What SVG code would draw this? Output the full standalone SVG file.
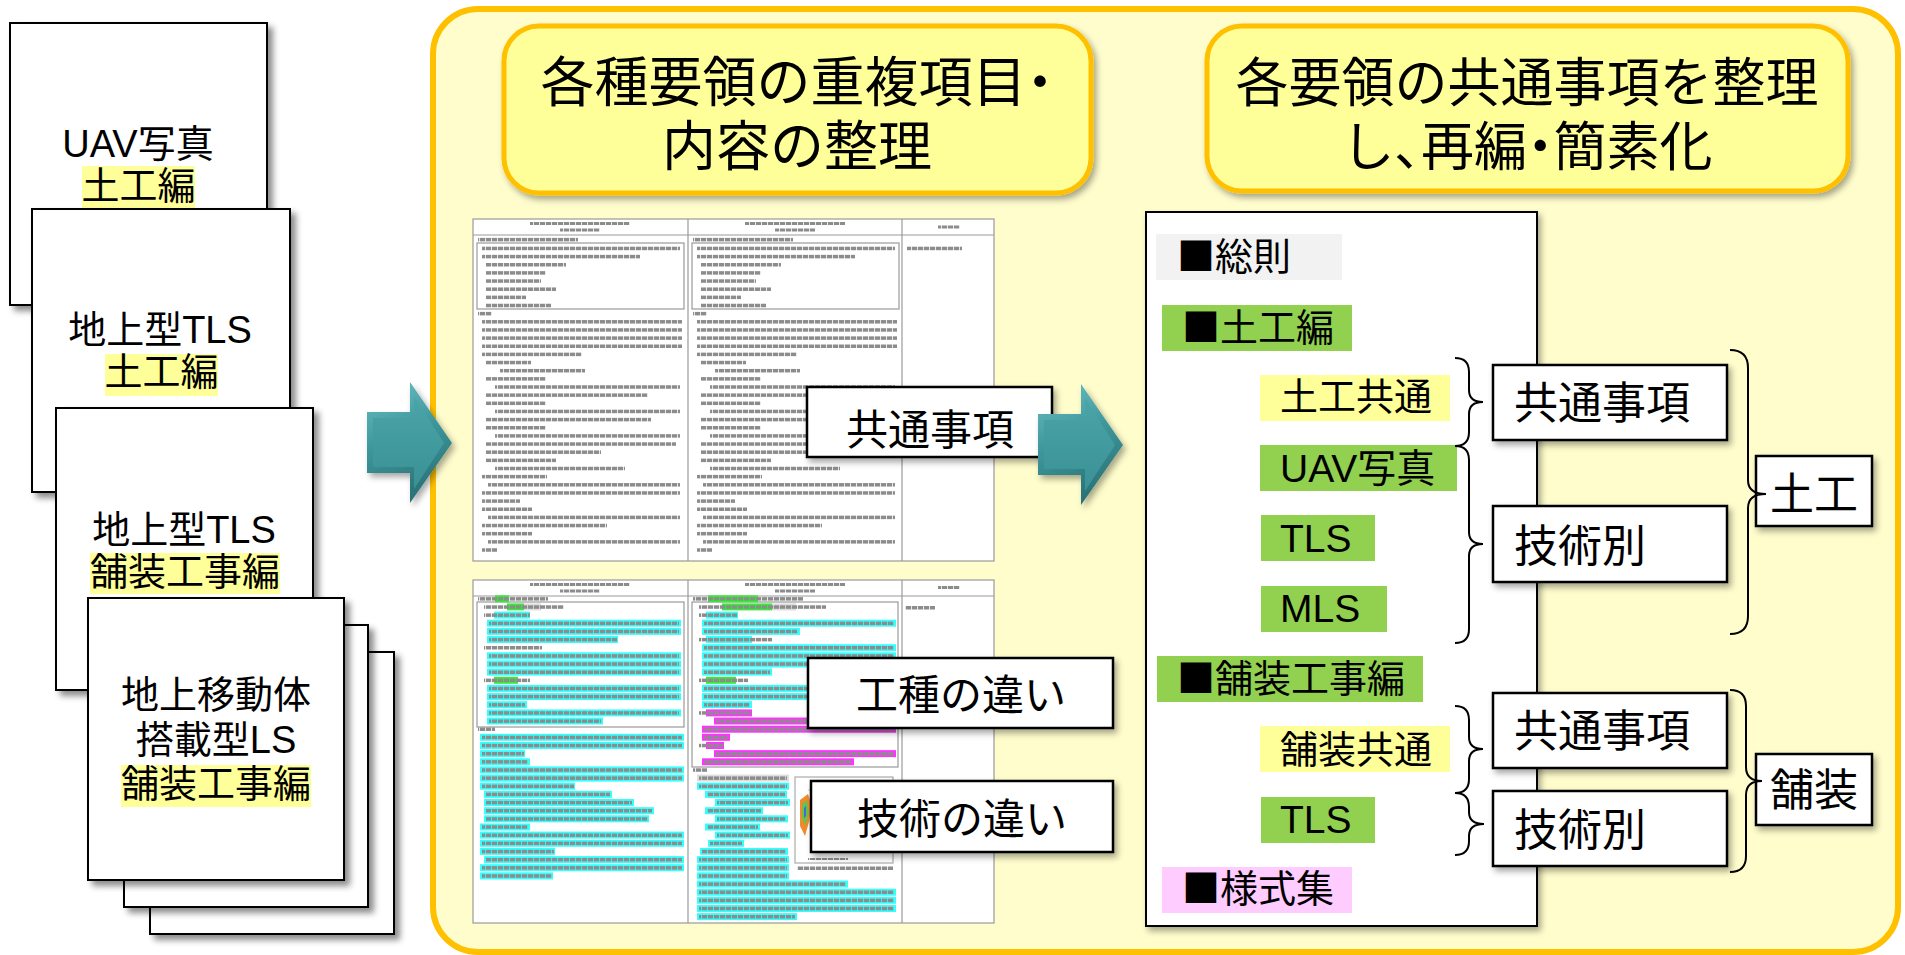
<svg xmlns="http://www.w3.org/2000/svg" xmlns:xlink="http://www.w3.org/1999/xlink" width="1905" height="955" viewBox="0 0 1905 955">
<style>
.jp{font-family:"Noto Sans CJK JP","Noto Sans CJK SC",sans-serif;fill:#000}
.mx{font-family:"Liberation Sans","Noto Sans CJK JP",sans-serif;fill:#000}
.p{font-feature-settings:"palt" 1}
.page{fill:#fff;stroke:#000;stroke-width:2}
.hl{fill:#FFFF99}
.gr{fill:#92D050}
.lbl{fill:#fff;stroke:#000;stroke-width:2.5}
.brace{fill:none;stroke:#000;stroke-width:2}
.doc{fill:#fff;stroke:#9a9a9a;stroke-width:1.2}
.rule{stroke:#9a9a9a;stroke-width:1.2}
.t{fill:url(#ln)}
.c{fill:#33FFFF}
.m{fill:#FF33FF}
.g{fill:#33EE33}
.gy{fill:#DDDDDD}
</style>
<defs>
<filter id="sh" x="-10%" y="-10%" width="130%" height="130%">
<feDropShadow dx="5" dy="5" stdDeviation="3" flood-color="#000" flood-opacity="0.45"/>
</filter>
<filter id="sh2" x="-10%" y="-10%" width="130%" height="130%">
<feDropShadow dx="3" dy="4" stdDeviation="3" flood-color="#000" flood-opacity="0.35"/>
</filter>
<pattern id="ln" width="6" height="10" patternUnits="userSpaceOnUse">
<rect width="5.2" height="10" fill="#8c8c8c"/>
</pattern>
<linearGradient id="teal" x1="0" y1="0" x2="0.3" y2="1">
<stop offset="0" stop-color="#6cc2c5"/>
<stop offset="0.5" stop-color="#3f989c"/>
<stop offset="1" stop-color="#2a7478"/>
</linearGradient>
<linearGradient id="teal2" x1="0" y1="0" x2="0" y2="1">
<stop offset="0" stop-color="#4aa4a8"/>
<stop offset="1" stop-color="#3a9195"/>
</linearGradient>
<g id="arrow">
<polygon points="0,30 43,30 43,0 85,61 43,121 43,91 0,91" fill="url(#teal)"/>
<polygon points="6,36 47,36 47,14 77,61 47,107 47,85 6,85" fill="url(#teal2)"/>
</g>
<g id="colA">
<rect class="t" x="478" y="237.9" width="100" height="3.5"/>
<rect x="477" y="243" width="207" height="66" fill="none" stroke="#9a9a9a" stroke-width="1.2"/>
<rect class="t" x="482" y="246.7" width="198" height="3.5"/>
<rect class="t" x="482" y="254.85" width="158" height="3.5"/>
<rect class="t" x="486" y="263" width="80" height="3.5"/>
<rect class="t" x="486" y="271.15" width="60" height="3.5"/>
<rect class="t" x="486" y="279.3" width="55" height="3.5"/>
<rect class="t" x="486" y="287.45" width="70" height="3.5"/>
<rect class="t" x="486" y="295.6" width="40" height="3.5"/>
<rect class="t" x="486" y="303.75" width="65" height="3.5"/>
<rect class="t" x="478" y="311.9" width="14" height="3.5"/>
<rect class="t" x="482" y="320.05" width="200" height="3.5"/>
<rect class="t" x="482" y="328.2" width="200" height="3.5"/>
<rect class="t" x="482" y="336.35" width="200" height="3.5"/>
<rect class="t" x="482" y="344.5" width="200" height="3.5"/>
<rect class="t" x="482" y="352.65" width="100" height="3.5"/>
<rect class="t" x="486" y="360.8" width="45" height="3.5"/>
<rect class="t" x="500" y="368.95" width="85" height="3.5"/>
<rect class="t" x="486" y="377.1" width="60" height="3.5"/>
<rect class="t" x="495" y="385.25" width="185" height="3.5"/>
<rect class="t" x="486" y="393.4" width="162" height="3.5"/>
<rect class="t" x="486" y="401.55" width="60" height="3.5"/>
<rect class="t" x="495" y="409.7" width="185" height="3.5"/>
<rect class="t" x="486" y="417.85" width="165" height="3.5"/>
<rect class="t" x="486" y="426" width="60" height="3.5"/>
<rect class="t" x="495" y="434.15" width="185" height="3.5"/>
<rect class="t" x="486" y="442.3" width="190" height="3.5"/>
<rect class="t" x="486" y="450.45" width="115" height="3.5"/>
<rect class="t" x="486" y="458.6" width="70" height="3.5"/>
<rect class="t" x="495" y="466.75" width="130" height="3.5"/>
<rect class="t" x="482" y="474.9" width="65" height="3.5"/>
<rect class="t" x="488" y="483.05" width="192" height="3.5"/>
<rect class="t" x="482" y="491.2" width="198" height="3.5"/>
<rect class="t" x="482" y="499.35" width="38" height="3.5"/>
<rect class="t" x="482" y="507.5" width="50" height="3.5"/>
<rect class="t" x="488" y="515.65" width="192" height="3.5"/>
<rect class="t" x="482" y="523.8" width="125" height="3.5"/>
<rect class="t" x="482" y="531.95" width="50" height="3.5"/>
<rect class="t" x="488" y="540.1" width="192" height="3.5"/>
<rect class="t" x="482" y="548.25" width="15" height="3.5"/>
</g>
</defs>

<!-- left stack of documents -->
<g id="page-uav-earth">
<rect class="page" x="10" y="23" width="257" height="282" filter="url(#sh)"/>
<rect class="hl" x="82" y="166" width="113" height="42"/>
<text class="mx" x="138" y="157" font-size="38" text-anchor="middle">UAV写真</text>
<text class="jp" x="138.5" y="199" font-size="38" text-anchor="middle">土工編</text>
</g>
<g id="page-tls-earth">
<rect class="page" x="32" y="209" width="258" height="283" filter="url(#sh)"/>
<rect class="hl" x="105" y="354" width="113" height="42"/>
<text class="mx" x="160" y="343" font-size="38" text-anchor="middle">地上型TLS</text>
<text class="jp" x="161.5" y="385" font-size="38" text-anchor="middle">土工編</text>
</g>
<g id="page-tls-pave">
<rect class="page" x="56" y="408" width="257" height="282" filter="url(#sh)"/>
<rect class="hl" x="90" y="553" width="190" height="41"/>
<text class="mx" x="184" y="543" font-size="38" text-anchor="middle">地上型TLS</text>
<text class="jp" x="185" y="585" font-size="38" text-anchor="middle">舗装工事編</text>
</g>
<g id="page-back2">
<rect class="page" x="150" y="652" width="244" height="282" filter="url(#sh)"/>
</g>
<g id="page-back1">
<rect class="page" x="124" y="625" width="244" height="282" filter="url(#sh)"/>
</g>
<g id="page-mls-pave">
<rect class="page" x="88" y="598" width="256" height="282" filter="url(#sh)"/>
<rect class="hl" x="121" y="765" width="190" height="42"/>
<text class="jp" x="216" y="708" font-size="38" text-anchor="middle">地上移動体</text>
<text class="mx" x="216" y="753" font-size="38" text-anchor="middle">搭載型LS</text>
<text class="jp" x="216" y="797" font-size="38" text-anchor="middle">舗装工事編</text>
</g>

<!-- big yellow panel -->
<g id="panel">
<rect x="433" y="9" width="1465" height="943" rx="45" fill="#FFFDCC" stroke="#FFC000" stroke-width="6"/>
</g>

<!-- titles -->
<g id="title-1">
<rect x="504" y="26" width="587" height="167" rx="35" fill="#FFFF99" stroke="#FFC000" stroke-width="5" filter="url(#sh2)"/>
<text class="jp" x="797" y="102" font-size="54" text-anchor="middle">各種要領の重複項目<tspan class="p">・</tspan></text>
<text class="jp" x="797" y="166" font-size="54" text-anchor="middle">内容の整理</text>
</g>
<g id="title-2">
<rect x="1207" y="26" width="641" height="165" rx="35" fill="#FFFF99" stroke="#FFC000" stroke-width="5" filter="url(#sh2)"/>
<text class="jp" x="1527" y="102" font-size="53" text-anchor="middle">各要領の共通事項を整理</text>
<text class="jp" x="1527" y="166" font-size="53" text-anchor="middle">し<tspan class="p">、</tspan>再編<tspan class="p">・</tspan>簡素化</text>
</g>

<!-- top document image -->
<g id="doc-top">
<rect class="doc" x="473" y="219" width="521" height="342"/>
<line class="rule" x1="473" y1="235" x2="994" y2="235"/>
<line class="rule" x1="688" y1="219" x2="688" y2="561"/>
<line class="rule" x1="902" y1="219" x2="902" y2="561"/>
<rect class="t" x="530" y="222" width="100" height="3"/>
<rect class="t" x="560" y="228.5" width="40" height="3"/>
<rect class="t" x="745" y="222" width="100" height="3"/>
<rect class="t" x="775" y="228.5" width="40" height="3"/>
<rect class="t" x="938" y="225.5" width="22" height="3"/>
<rect class="t" x="907" y="246.7" width="55" height="3.5"/>
<use xlink:href="#colA"/>
<use xlink:href="#colA" x="215"/>
</g>

<!-- bottom document image -->
<g id="doc-bottom">
<rect class="doc" x="473" y="580" width="521" height="343"/>
<line class="rule" x1="473" y1="596" x2="994" y2="596"/>
<line class="rule" x1="688" y1="580" x2="688" y2="923"/>
<line class="rule" x1="902" y1="580" x2="902" y2="923"/>
<rect class="t" x="530" y="583" width="100" height="3"/>
<rect class="t" x="560" y="589.5" width="40" height="3"/>
<rect class="t" x="745" y="583" width="100" height="3"/>
<rect class="t" x="775" y="589.5" width="40" height="3"/>
<rect class="t" x="938" y="586" width="22" height="3"/>
<rect class="t" x="905" y="606" width="30" height="3.5"/>
<rect x="477" y="602" width="207" height="125" fill="none" stroke="#9a9a9a" stroke-width="1.2"/>
<rect x="692" y="602" width="206" height="165" fill="none" stroke="#9a9a9a" stroke-width="1.2"/>
<!-- col 1 highlights -->
<g>
<rect class="g" x="495" y="595.3" width="14" height="7"/>
<rect class="g" x="507" y="603.4" width="17" height="7"/>
<rect class="gy" x="524" y="603.4" width="17" height="7"/>
<rect class="c" x="494" y="611.6" width="36" height="7"/>
<rect class="c" x="487" y="619.7" width="194" height="7"/>
<rect class="c" x="487" y="627.9" width="194" height="7"/>
<rect class="c" x="487" y="636" width="131" height="7"/>
<rect class="c" x="487" y="652.3" width="194" height="7"/>
<rect class="c" x="487" y="660.5" width="194" height="7"/>
<rect class="c" x="487" y="668.6" width="194" height="7"/>
<rect class="g" x="494" y="676.8" width="24" height="7"/>
<rect class="c" x="487" y="684.9" width="194" height="7"/>
<rect class="c" x="487" y="693.1" width="194" height="7"/>
<rect class="c" x="487" y="701.2" width="40" height="7"/>
<rect class="c" x="487" y="709.4" width="194" height="7"/>
<rect class="c" x="487" y="717.5" width="116" height="7"/>
<rect class="c" x="480" y="733.8" width="204" height="7"/>
<rect class="c" x="480" y="742" width="204" height="7"/>
<rect class="c" x="480" y="750.1" width="45" height="7"/>
<rect class="c" x="480" y="758.3" width="50" height="7"/>
<rect class="c" x="480" y="766.4" width="204" height="7"/>
<rect class="c" x="480" y="774.6" width="204" height="7"/>
<rect class="c" x="480" y="782.7" width="95" height="7"/>
<rect class="c" x="484" y="790.9" width="128" height="7"/>
<rect class="c" x="484" y="799" width="150" height="7"/>
<rect class="c" x="484" y="807.2" width="170" height="7"/>
<rect class="c" x="484" y="815.3" width="165" height="7"/>
<rect class="c" x="480" y="823.5" width="50" height="7"/>
<rect class="c" x="480" y="831.6" width="204" height="7"/>
<rect class="c" x="480" y="839.8" width="204" height="7"/>
<rect class="c" x="480" y="847.9" width="75" height="7"/>
<rect class="c" x="484" y="856.1" width="200" height="7"/>
<rect class="c" x="480" y="864.2" width="204" height="7"/>
<rect class="c" x="480" y="872.4" width="73" height="7"/>
</g>
<!-- col 1 text -->
<g>
<rect class="t" x="478" y="597.1" width="70" height="3.5"/>
<rect class="t" x="484" y="605.3" width="80" height="3.5"/>
<rect class="t" x="484" y="613.4" width="46" height="3.5"/>
<rect class="t" x="489" y="621.6" width="190" height="3.5"/>
<rect class="t" x="489" y="629.7" width="190" height="3.5"/>
<rect class="t" x="489" y="637.9" width="128" height="3.5"/>
<rect class="t" x="484" y="646" width="58" height="3.5"/>
<rect class="t" x="489" y="654.2" width="190" height="3.5"/>
<rect class="t" x="489" y="662.3" width="190" height="3.5"/>
<rect class="t" x="489" y="670.5" width="190" height="3.5"/>
<rect class="t" x="484" y="678.6" width="46" height="3.5"/>
<rect class="t" x="489" y="686.8" width="190" height="3.5"/>
<rect class="t" x="489" y="694.9" width="190" height="3.5"/>
<rect class="t" x="489" y="703.1" width="36" height="3.5"/>
<rect class="t" x="489" y="711.2" width="190" height="3.5"/>
<rect class="t" x="489" y="719.4" width="112" height="3.5"/>
<rect class="t" x="478" y="727.5" width="17" height="3.5"/>
<rect class="t" x="482" y="735.7" width="200" height="3.5"/>
<rect class="t" x="482" y="743.8" width="200" height="3.5"/>
<rect class="t" x="482" y="752" width="42" height="3.5"/>
<rect class="t" x="482" y="760.1" width="46" height="3.5"/>
<rect class="t" x="482" y="768.3" width="200" height="3.5"/>
<rect class="t" x="482" y="776.4" width="200" height="3.5"/>
<rect class="t" x="482" y="784.6" width="92" height="3.5"/>
<rect class="t" x="486" y="792.7" width="124" height="3.5"/>
<rect class="t" x="486" y="800.9" width="146" height="3.5"/>
<rect class="t" x="486" y="809" width="166" height="3.5"/>
<rect class="t" x="486" y="817.2" width="162" height="3.5"/>
<rect class="t" x="482" y="825.3" width="46" height="3.5"/>
<rect class="t" x="482" y="833.5" width="200" height="3.5"/>
<rect class="t" x="482" y="841.6" width="200" height="3.5"/>
<rect class="t" x="482" y="849.8" width="72" height="3.5"/>
<rect class="t" x="486" y="857.9" width="196" height="3.5"/>
<rect class="t" x="482" y="866.1" width="200" height="3.5"/>
<rect class="t" x="482" y="874.2" width="70" height="3.5"/>
</g>
<!-- col 2 highlights -->
<g>
<rect class="g" x="708" y="595.3" width="50" height="7"/>
<rect class="g" x="722" y="603.4" width="50" height="7"/>
<rect class="gy" x="772" y="603.4" width="24" height="7"/>
<rect class="c" x="706" y="611.6" width="32" height="7"/>
<rect class="c" x="702" y="619.7" width="194" height="7"/>
<rect class="c" x="702" y="627.9" width="98" height="7"/>
<rect class="c" x="706" y="636" width="46" height="7"/>
<rect class="c" x="702" y="644.2" width="194" height="7"/>
<rect class="c" x="702" y="652.3" width="194" height="7"/>
<rect class="c" x="702" y="660.5" width="194" height="7"/>
<rect class="c" x="702" y="668.6" width="70" height="7"/>
<rect class="g" x="706" y="676.8" width="30" height="7"/>
<rect class="c" x="702" y="684.9" width="194" height="7"/>
<rect class="c" x="702" y="693.1" width="194" height="7"/>
<rect class="c" x="702" y="701.2" width="50" height="7"/>
<rect class="m" x="706" y="709.4" width="46" height="7"/>
<rect class="m" x="714" y="717.5" width="140" height="7"/>
<rect class="m" x="702" y="725.7" width="194" height="7"/>
<rect class="m" x="702" y="733.8" width="28" height="7"/>
<rect class="m" x="706" y="742" width="18" height="7"/>
<rect class="m" x="714" y="750.1" width="182" height="7"/>
<rect class="m" x="702" y="758.3" width="152" height="7"/>
<rect class="gy" x="697" y="774.6" width="92" height="7"/>
<rect class="c" x="697" y="782.7" width="92" height="7"/>
<rect class="c" x="705" y="790.9" width="82" height="7"/>
<rect class="c" x="715" y="799" width="75" height="7"/>
<rect class="c" x="705" y="807.2" width="58" height="7"/>
<rect class="c" x="715" y="815.3" width="73" height="7"/>
<rect class="c" x="705" y="823.5" width="55" height="7"/>
<rect class="c" x="715" y="831.6" width="75" height="7"/>
<rect class="c" x="708" y="839.8" width="36" height="7"/>
<rect class="c" x="700" y="847.9" width="88" height="7"/>
<rect class="c" x="697" y="856.1" width="92" height="7"/>
<rect class="c" x="697" y="864.2" width="92" height="7"/>
<rect class="c" x="697" y="872.4" width="92" height="7"/>
<rect class="c" x="697" y="880.5" width="151" height="7"/>
<rect class="c" x="697" y="888.7" width="199" height="7"/>
<rect class="c" x="697" y="896.8" width="199" height="7"/>
<rect class="c" x="697" y="905" width="199" height="7"/>
<rect class="c" x="697" y="913.1" width="100" height="7"/>
</g>
<!-- col 2 text -->
<g>
<rect class="t" x="693" y="597.1" width="110" height="3.5"/>
<rect class="t" x="699" y="605.3" width="127" height="3.5"/>
<rect class="t" x="699" y="613.4" width="38" height="3.5"/>
<rect class="t" x="704" y="621.6" width="190" height="3.5"/>
<rect class="t" x="704" y="629.7" width="94" height="3.5"/>
<rect class="t" x="699" y="637.9" width="73" height="3.5"/>
<rect class="t" x="704" y="646" width="190" height="3.5"/>
<rect class="t" x="704" y="654.2" width="190" height="3.5"/>
<rect class="t" x="704" y="662.3" width="190" height="3.5"/>
<rect class="t" x="704" y="670.5" width="66" height="3.5"/>
<rect class="t" x="699" y="678.6" width="49" height="3.5"/>
<rect class="t" x="704" y="686.8" width="190" height="3.5"/>
<rect class="t" x="704" y="694.9" width="190" height="3.5"/>
<rect class="t" x="704" y="703.1" width="46" height="3.5"/>
<rect class="t" x="699" y="711.2" width="52" height="3.5"/>
<rect class="t" x="716" y="719.4" width="136" height="3.5"/>
<rect class="t" x="704" y="727.5" width="190" height="3.5"/>
<rect class="t" x="704" y="735.7" width="24" height="3.5"/>
<rect class="t" x="699" y="743.8" width="24" height="3.5"/>
<rect class="t" x="716" y="752" width="178" height="3.5"/>
<rect class="t" x="704" y="760.1" width="148" height="3.5"/>
<rect class="t" x="693" y="768.3" width="14" height="3.5"/>
<rect class="t" x="699" y="776.4" width="88" height="3.5"/>
<rect class="t" x="699" y="784.6" width="88" height="3.5"/>
<rect class="t" x="707" y="792.7" width="78" height="3.5"/>
<rect class="t" x="717" y="800.9" width="71" height="3.5"/>
<rect class="t" x="707" y="809" width="54" height="3.5"/>
<rect class="t" x="717" y="817.2" width="69" height="3.5"/>
<rect class="t" x="707" y="825.3" width="51" height="3.5"/>
<rect class="t" x="717" y="833.5" width="71" height="3.5"/>
<rect class="t" x="710" y="841.6" width="32" height="3.5"/>
<rect class="t" x="702" y="849.8" width="84" height="3.5"/>
<rect class="t" x="699" y="857.9" width="88" height="3.5"/>
<rect class="t" x="699" y="866.1" width="88" height="3.5"/>
<rect class="t" x="699" y="874.2" width="88" height="3.5"/>
<rect class="t" x="699" y="882.4" width="147" height="3.5"/>
<rect class="t" x="699" y="890.5" width="195" height="3.5"/>
<rect class="t" x="699" y="898.7" width="195" height="3.5"/>
<rect class="t" x="699" y="906.8" width="195" height="3.5"/>
<rect class="t" x="699" y="915" width="96" height="3.5"/>
</g>
<!-- figure -->
<rect x="795" y="777" width="98" height="86" fill="#fff" stroke="#9a9a9a" stroke-width="1"/>
<path d="M800,800 L808,794 L812,806 L809,822 L805,836 L800,826 Z" fill="#f08a2c"/>
<path d="M802,804 L807,800 L809,812 L805,826 L802,818 Z" fill="#6cc04a"/>
<path d="M804,808 L806,806 L806,816 L804,818 Z" fill="#3a6fd8"/>
<path d="M808,790 L850,788 L870,792" fill="none" stroke="#cfcfcf" stroke-width="1"/>
<rect class="t" x="808" y="858" width="40" height="2"/>
<rect class="t" x="797" y="866.5" width="96" height="3.5"/>
</g>

<!-- middle labels -->
<g id="label-common">
<rect class="lbl" x="807" y="387" width="245" height="70" filter="url(#sh2)"/>
<text class="jp" x="930" y="445" font-size="42" text-anchor="middle">共通事項</text>
</g>
<g id="label-worktype">
<rect class="lbl" x="808" y="658" width="305" height="70" filter="url(#sh2)"/>
<text class="jp" x="961" y="710" font-size="42" text-anchor="middle">工種の違い</text>
</g>
<g id="label-tech">
<rect class="lbl" x="811" y="781" width="302" height="71" filter="url(#sh2)"/>
<text class="jp" x="962" y="834" font-size="42" text-anchor="middle">技術の違い</text>
</g>

<!-- arrows -->
<g id="arrows">
<use xlink:href="#arrow" x="367" y="382" filter="url(#sh2)"/>
<use xlink:href="#arrow" x="1038" y="384" filter="url(#sh2)"/>
</g>

<!-- right white panel -->
<g id="outline-panel">
<rect x="1146" y="212" width="391" height="714" fill="#fff" stroke="#000" stroke-width="2" filter="url(#sh2)"/>
</g>
<g id="item-general">
<rect x="1156" y="234" width="186" height="46" fill="#F2F2F2"/>
<text class="jp" x="1177" y="270" font-size="38">■総則</text>
</g>
<g id="item-earth">
<rect class="gr" x="1162" y="305" width="190" height="46"/>
<text class="jp" x="1182" y="341" font-size="38">■土工編</text>
</g>
<g id="item-earth-common">
<rect class="hl" x="1260" y="375" width="190" height="46"/>
<text class="jp" x="1280" y="410" font-size="38">土工共通</text>
</g>
<g id="item-uav">
<rect class="gr" x="1260" y="445" width="197" height="46"/>
<text class="mx" x="1280" y="482" font-size="39">UAV写真</text>
</g>
<g id="item-tls1">
<rect class="gr" x="1261" y="515" width="114" height="46"/>
<text class="mx" x="1280" y="552" font-size="39">TLS</text>
</g>
<g id="item-mls">
<rect class="gr" x="1261" y="586" width="126" height="46"/>
<text class="mx" x="1280" y="622" font-size="39">MLS</text>
</g>
<g id="item-pave">
<rect class="gr" x="1157" y="656" width="266" height="46"/>
<text class="jp" x="1177" y="692" font-size="38">■舗装工事編</text>
</g>
<g id="item-pave-common">
<rect class="hl" x="1260" y="726" width="190" height="46"/>
<text class="jp" x="1280" y="763" font-size="38">舗装共通</text>
</g>
<g id="item-tls2">
<rect class="gr" x="1261" y="797" width="114" height="46"/>
<text class="mx" x="1280" y="833" font-size="39">TLS</text>
</g>
<g id="item-forms">
<rect x="1162" y="867" width="190" height="46" fill="#FFCCFF"/>
<text class="jp" x="1182" y="902" font-size="38">■様式集</text>
</g>

<!-- right category boxes -->
<g id="box-common-1">
<rect class="lbl" x="1493" y="365" width="234" height="75" stroke-width="2" filter="url(#sh2)"/>
<text class="jp" x="1514" y="419" font-size="44">共通事項</text>
</g>
<g id="box-tech-1">
<rect class="lbl" x="1493" y="506" width="234" height="76" stroke-width="2" filter="url(#sh2)"/>
<text class="jp" x="1514" y="562" font-size="44">技術別</text>
</g>
<g id="box-common-2">
<rect class="lbl" x="1493" y="693" width="234" height="75" stroke-width="2" filter="url(#sh2)"/>
<text class="jp" x="1514" y="747" font-size="44">共通事項</text>
</g>
<g id="box-tech-2">
<rect class="lbl" x="1493" y="791" width="234" height="75" stroke-width="2" filter="url(#sh2)"/>
<text class="jp" x="1514" y="846" font-size="44">技術別</text>
</g>
<g id="box-earth">
<rect class="lbl" x="1756" y="456" width="116" height="70" stroke-width="2" filter="url(#sh2)"/>
<text class="jp" x="1814" y="510" font-size="44" text-anchor="middle">土工</text>
</g>
<g id="box-pave">
<rect class="lbl" x="1756" y="754" width="116" height="71" stroke-width="2" filter="url(#sh2)"/>
<text class="jp" x="1814" y="806" font-size="44" text-anchor="middle">舗装</text>
</g>

<!-- braces (connectors) -->
<g id="connectors">
<path class="brace" d="M1455,358 Q1469,358 1469,372 L1469,390 Q1469,402 1483,402 Q1469,402 1469,414 L1469,432 Q1469,446 1455,446"/>
<path class="brace" d="M1455,446 Q1469,446 1469,460 L1469,532 Q1469,544 1483,544 Q1469,544 1469,556 L1469,629 Q1469,643 1455,643"/>
<path class="brace" d="M1455,706 Q1469,706 1469,720 L1469,737 Q1469,749 1483,749 Q1469,749 1469,761 L1469,779 Q1469,793 1455,793"/>
<path class="brace" d="M1455,793 Q1469,793 1469,807 L1469,812 Q1469,824 1484,824 Q1469,824 1469,836 L1469,841 Q1469,855 1455,855"/>
<path class="brace" d="M1730,350 Q1748,350 1748,368 L1748,480 Q1748,494 1766,494 Q1748,494 1748,508 L1748,616 Q1748,634 1730,634"/>
<path class="brace" d="M1730,690 Q1746,690 1746,706 L1746,767 Q1746,781 1762,781 Q1746,781 1746,795 L1746,856 Q1746,872 1730,872"/>
</g>
</svg>
